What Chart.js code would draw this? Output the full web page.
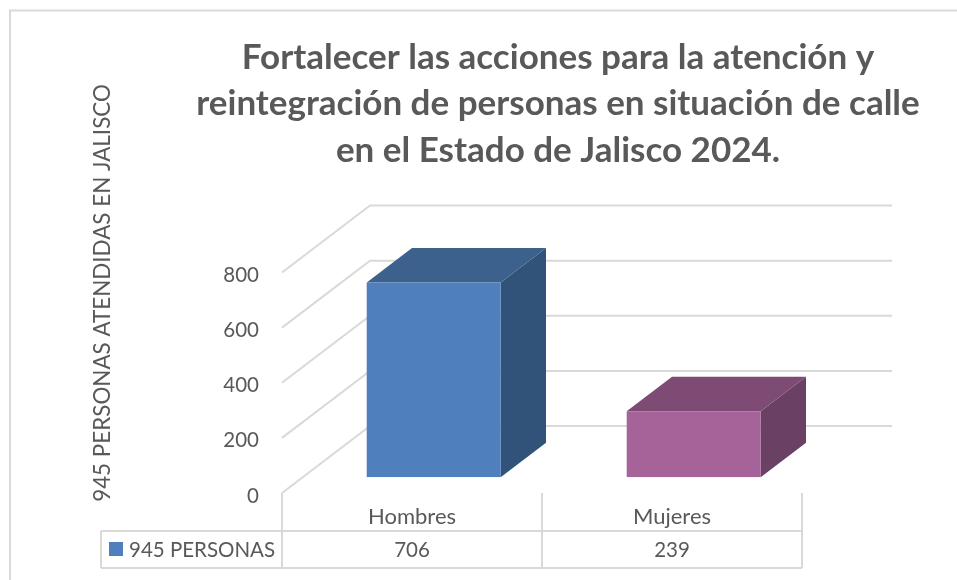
<!DOCTYPE html>
<html><head><meta charset="utf-8">
<script src="https://cdn.jsdelivr.net/npm/chart.js@4"></script>
<style>html,body{margin:0;padding:0;background:#fff}canvas{display:block}</style>
</head><body><canvas id="c" width="957" height="580"></canvas>
<script>
const categories = ['Hombres', 'Mujeres'];
const seriesName = '945 PERSONAS';
const values = [706, 239];
const titleLines = ['Fortalecer las acciones para la atención y', 'reintegración de personas en situación de calle', 'en el Estado de Jalisco 2024.'];
const yAxisTitle = '945 PERSONAS ATENDIDAS EN JALISCO';

const frontColors = ['#4F80BD', '#A6639A'];
const topColors = ['#3C618D', '#7E4B75'];
const sideColors = ['#315379', '#6B4065'];
const GRID = '#D9D9D9', TEXT = '#595959', FONT = 'Lato';
const WALL = {dx: 88, dy: -67}, BAR = {dx: 21.7, dy: -15.8}, DEPTH = {dx: 45.3, dy: -34.5};

const scene = {
  id: 'scene',
  beforeDatasetsDraw(chart) {
    const {ctx, scales: {x, y}} = chart;
    ctx.save();
    ctx.strokeStyle = GRID; ctx.lineWidth = 2;
    const backRight = x.right + 90;
    y.ticks.forEach(t => {
      const py = y.getPixelForValue(t.value);
      ctx.beginPath();
      ctx.moveTo(x.left, py);
      ctx.lineTo(x.left + WALL.dx, py + WALL.dy);
      ctx.lineTo(backRight, py + WALL.dy);
      ctx.stroke();
    });
    chart.getDatasetMeta(0).data.forEach((el, i) => {
      const l = el.x - el.width / 2 + BAR.dx, r = el.x + el.width / 2 + BAR.dx;
      const t = el.y + BAR.dy, b = el.base + BAR.dy;
      ctx.fillStyle = sideColors[i];
      ctx.beginPath();
      ctx.moveTo(r, t); ctx.lineTo(r + DEPTH.dx, t + DEPTH.dy);
      ctx.lineTo(r + DEPTH.dx, b + DEPTH.dy); ctx.lineTo(r, b);
      ctx.closePath(); ctx.fill();
      ctx.fillStyle = topColors[i];
      ctx.beginPath();
      ctx.moveTo(l, t); ctx.lineTo(l + DEPTH.dx, t + DEPTH.dy);
      ctx.lineTo(r + DEPTH.dx, t + DEPTH.dy); ctx.lineTo(r, t);
      ctx.closePath(); ctx.fill();
    });
    ctx.restore();
    ctx.save();
    ctx.translate(BAR.dx, BAR.dy);
  },
  afterDatasetsDraw(chart) {
    const {ctx, scales: {x, y}} = chart;
    ctx.restore();
    ctx.save();
    const rowTop = y.bottom + 38, rowBot = y.bottom + 75, tableLeft = 101;
    const cols = [x.left, x.getPixelForValue(0.5), x.right];
    ctx.strokeStyle = GRID; ctx.lineWidth = 2;
    cols.forEach(cx => { ctx.beginPath(); ctx.moveTo(cx, y.bottom); ctx.lineTo(cx, rowBot); ctx.stroke(); });
    ctx.beginPath(); ctx.moveTo(tableLeft, rowTop); ctx.lineTo(x.right, rowTop); ctx.stroke();
    ctx.beginPath(); ctx.moveTo(tableLeft, rowBot); ctx.lineTo(x.right, rowBot); ctx.stroke();
    ctx.beginPath(); ctx.moveTo(tableLeft, rowTop); ctx.lineTo(tableLeft, rowBot); ctx.stroke();
    ctx.fillStyle = frontColors[0];
    ctx.fillRect(109, rowTop + 11, 14, 14);
    ctx.fillStyle = TEXT; ctx.font = '20.5px ' + FONT; ctx.textBaseline = 'middle';
    ctx.textAlign = 'left';
    ctx.fillText(seriesName, 129, (rowTop + rowBot) / 2 + 1);
    ctx.textAlign = 'center';
    values.forEach((v, i) => ctx.fillText(String(v), x.getPixelForValue(i), (rowTop + rowBot) / 2 + 1));
    ctx.translate(103, 293);
    ctx.rotate(-Math.PI / 2);
    ctx.font = '22.4px ' + FONT;
    ctx.fillText(yAxisTitle, 0, 0);
    ctx.restore();
    ctx.save();
    ctx.strokeStyle = GRID; ctx.lineWidth = 2;
    ctx.beginPath(); ctx.moveTo(10, 580); ctx.lineTo(10, 10.5); ctx.lineTo(957, 10.5); ctx.stroke();
    ctx.restore();
  },
  afterLayout(chart) {
    chart.titleBlock.left = 159;
    chart.titleBlock.right = 957;
    const y = chart.scales.y, draw = y.drawLabels;
    y.drawLabels = function (area) {
      chart.ctx.save();
      chart.ctx.translate(0, 3);
      draw.call(this, area);
      chart.ctx.restore();
    };
  }
};

new Chart(document.getElementById('c'), {
  type: 'bar',
  data: {labels: categories, datasets: [{label: seriesName, data: values,
    backgroundColor: frontColors, borderWidth: 0,
    barPercentage: 134 / 260, categoryPercentage: 1}]},
  plugins: [scene],
  options: {
    responsive: false, animation: false,
    layout: {padding: {left: 0, right: 155, top: 0, bottom: 0}},
    plugins: {
      legend: {display: false}, tooltip: {enabled: false},
      title: {display: true, text: titleLines, color: TEXT,
        font: {family: FONT, size: 35, weight: 'bold', lineHeight: 46.5 / 35},
        padding: {top: 34, bottom: 99}}
    },
    scales: {
      x: {grid: {display: false}, border: {display: false},
        afterFit(s) { s.height = 87; },
        ticks: {color: TEXT, font: {family: FONT, size: 22}, padding: 3, maxRotation: 0}},
      y: {min: 0, max: 800, grid: {display: false}, border: {display: false},
        afterFit(s) { s.width = 282; },
        ticks: {stepSize: 200, color: TEXT, font: {family: FONT, size: 20.5}, padding: 15}}
    }
  }
});
</script></body></html>
